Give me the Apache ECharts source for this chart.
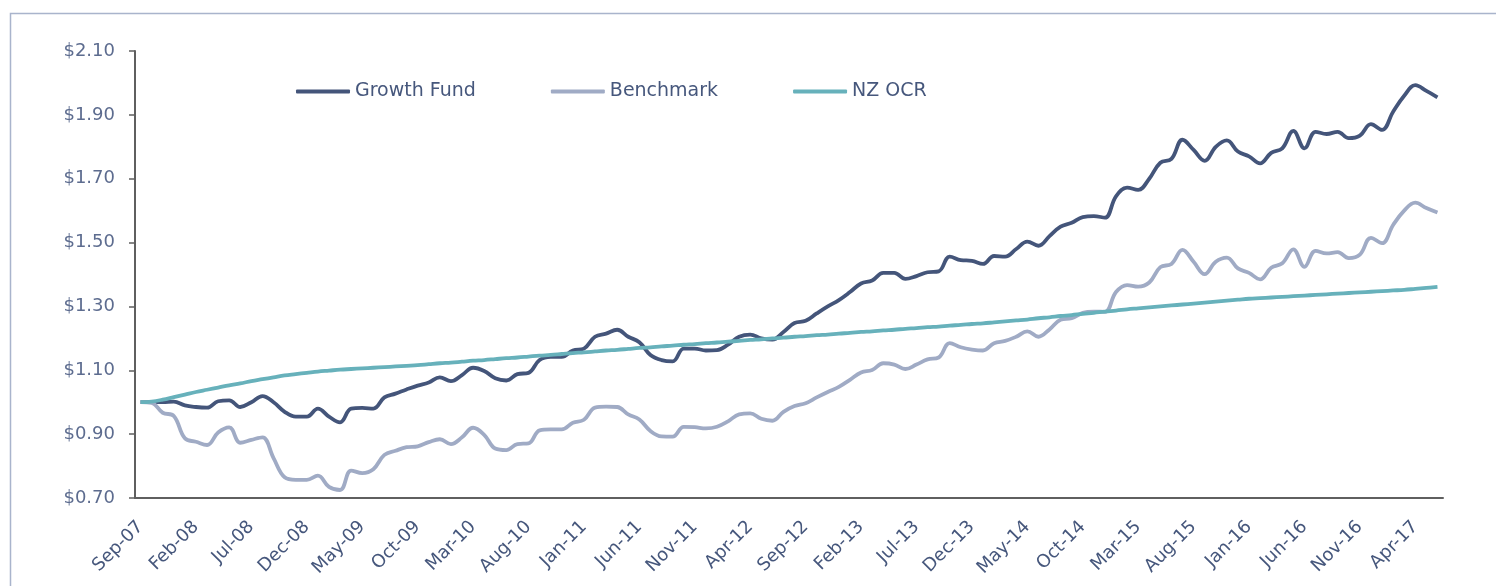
<!DOCTYPE html>
<html>
<head>
<meta charset="utf-8">
<script src="https://cdn.jsdelivr.net/npm/echarts@6/dist/echarts.min.js"></script>
<style>
    html, body { margin: 0; padding: 0; background: #fff; }
    #chart { width: 1496px; height: 586px; }
</style>
</head>
<body>
<div id="chart"></div>
<script>

    const months = [
        'Sep-07', 'Oct-07', 'Nov-07', 'Dec-07',
        'Jan-08', 'Feb-08', 'Mar-08', 'Apr-08', 'May-08', 'Jun-08', 'Jul-08', 'Aug-08', 'Sep-08', 'Oct-08', 'Nov-08', 'Dec-08',
        'Jan-09', 'Feb-09', 'Mar-09', 'Apr-09', 'May-09', 'Jun-09', 'Jul-09', 'Aug-09', 'Sep-09', 'Oct-09', 'Nov-09', 'Dec-09',
        'Jan-10', 'Feb-10', 'Mar-10', 'Apr-10', 'May-10', 'Jun-10', 'Jul-10', 'Aug-10', 'Sep-10', 'Oct-10', 'Nov-10', 'Dec-10',
        'Jan-11', 'Feb-11', 'Mar-11', 'Apr-11', 'May-11', 'Jun-11', 'Jul-11', 'Aug-11', 'Sep-11', 'Oct-11', 'Nov-11', 'Dec-11',
        'Jan-12', 'Feb-12', 'Mar-12', 'Apr-12', 'May-12', 'Jun-12', 'Jul-12', 'Aug-12', 'Sep-12', 'Oct-12', 'Nov-12', 'Dec-12',
        'Jan-13', 'Feb-13', 'Mar-13', 'Apr-13', 'May-13', 'Jun-13', 'Jul-13', 'Aug-13', 'Sep-13', 'Oct-13', 'Nov-13', 'Dec-13',
        'Jan-14', 'Feb-14', 'Mar-14', 'Apr-14', 'May-14', 'Jun-14', 'Jul-14', 'Aug-14', 'Sep-14', 'Oct-14', 'Nov-14', 'Dec-14',
        'Jan-15', 'Feb-15', 'Mar-15', 'Apr-15', 'May-15', 'Jun-15', 'Jul-15', 'Aug-15', 'Sep-15', 'Oct-15', 'Nov-15', 'Dec-15',
        'Jan-16', 'Feb-16', 'Mar-16', 'Apr-16', 'May-16', 'Jun-16', 'Jul-16', 'Aug-16', 'Sep-16', 'Oct-16', 'Nov-16', 'Dec-16',
        'Jan-17', 'Feb-17', 'Mar-17', 'Apr-17', 'May-17', 'Jun-17'
    ];

    // growth of $1 invested
    const growthFund = [
        1.000, 1.000, 1.000, 1.002, 0.990, 0.985, 0.983, 1.003, 1.006, 0.985,
        1.000, 1.019, 1.000, 0.970, 0.955, 0.955, 0.980, 0.955, 0.937, 0.980,
        0.982, 0.980, 1.015, 1.027, 1.040, 1.052, 1.062, 1.078, 1.066, 1.085,
        1.108, 1.098, 1.075, 1.068, 1.088, 1.092, 1.132, 1.142, 1.142, 1.162,
        1.168, 1.205, 1.215, 1.227, 1.205, 1.188, 1.148, 1.132, 1.128, 1.168,
        1.168, 1.162, 1.163, 1.180, 1.205, 1.212, 1.200, 1.196, 1.220, 1.248,
        1.255, 1.278, 1.300, 1.320, 1.345, 1.372, 1.381, 1.405, 1.405, 1.386,
        1.395, 1.407, 1.410, 1.456, 1.445, 1.443, 1.433, 1.458, 1.456, 1.480,
        1.503, 1.490, 1.520, 1.550, 1.562, 1.580, 1.583, 1.578, 1.645, 1.672,
        1.665, 1.700, 1.750, 1.762, 1.822, 1.790, 1.756, 1.800, 1.820, 1.785,
        1.770, 1.748, 1.781, 1.795, 1.850, 1.795, 1.847, 1.840, 1.847, 1.827,
        1.835, 1.871, 1.853, 1.910, 1.960, 1.993, 1.975, 1.955
    ];

    const benchmark = [
        1.000, 0.998, 0.967, 0.957, 0.887, 0.876, 0.866, 0.905, 0.921, 0.873,
        0.882, 0.890, 0.825, 0.765, 0.757, 0.757, 0.770, 0.735, 0.725, 0.786,
        0.778, 0.790, 0.835, 0.848, 0.859, 0.862, 0.875, 0.884, 0.869, 0.890,
        0.920, 0.898, 0.855, 0.850, 0.869, 0.871, 0.912, 0.915, 0.915, 0.936,
        0.945, 0.983, 0.986, 0.985, 0.962, 0.946, 0.910, 0.893, 0.892, 0.923,
        0.922, 0.918, 0.923, 0.940, 0.962, 0.965, 0.948, 0.942, 0.970, 0.988,
        0.997, 1.015, 1.032, 1.048, 1.070, 1.093, 1.101, 1.122, 1.118, 1.104,
        1.118, 1.134, 1.140, 1.185, 1.172, 1.165, 1.162, 1.185, 1.192, 1.205,
        1.222, 1.205, 1.228, 1.258, 1.263, 1.280, 1.284, 1.283, 1.345, 1.367,
        1.362, 1.375, 1.423, 1.433, 1.477, 1.440, 1.401, 1.440, 1.453, 1.419,
        1.405, 1.385, 1.421, 1.435, 1.479, 1.424, 1.474, 1.466, 1.470, 1.451,
        1.462, 1.515, 1.498, 1.555, 1.600, 1.625, 1.608, 1.594
    ];

    const nzOcr = [
        1.000, 1.002, 1.008, 1.016, 1.024, 1.032, 1.039, 1.046, 1.053, 1.059,
        1.066, 1.072, 1.078, 1.084, 1.088, 1.092, 1.096, 1.099, 1.102, 1.104,
        1.106, 1.108, 1.110, 1.112, 1.114, 1.116, 1.119, 1.122, 1.124, 1.127,
        1.130, 1.132, 1.135, 1.138, 1.140, 1.143, 1.146, 1.148, 1.151, 1.154,
        1.156, 1.159, 1.162, 1.164, 1.167, 1.170, 1.172, 1.175, 1.177, 1.180,
        1.182, 1.185, 1.187, 1.190, 1.192, 1.195, 1.197, 1.200, 1.202, 1.205,
        1.207, 1.210, 1.212, 1.215, 1.217, 1.220, 1.222, 1.225, 1.227, 1.230,
        1.232, 1.235, 1.237, 1.240, 1.242, 1.245, 1.247, 1.250, 1.253, 1.256,
        1.259, 1.263, 1.266, 1.270, 1.273, 1.277, 1.280, 1.284, 1.287, 1.291,
        1.294, 1.297, 1.300, 1.303, 1.306, 1.309, 1.312, 1.315, 1.318, 1.321,
        1.324, 1.326, 1.328, 1.330, 1.332, 1.334, 1.336, 1.338, 1.340, 1.342,
        1.344, 1.346, 1.348, 1.350, 1.352, 1.355, 1.358, 1.361
    ];

    const X_TEXT_COLOR = '#46577c';
    const Y_TEXT_COLOR = '#5d6c8f';
    const AXIS_COLOR = '#5f5f5f';
    const FONT = '"DejaVu Sans", sans-serif';

    const lineSeries = (name, data, color) => ({
        name: name,
        type: 'line',
        data: data,
        smooth: 0.4,
        symbol: 'none',
        animation: false,
        lineStyle: { color: color, width: 3.8 },
        itemStyle: { color: color }
    });

    echarts.init(document.getElementById('chart')).setOption({
        animation: false,
        graphic: [{
            type: 'rect',
            silent: true,
            shape: { x: 10.5, y: 13.5, width: 1500, height: 600 },
            style: { fill: 'none', stroke: '#a9b4cc', lineWidth: 1.5 }
        }],
        legend: {
            left: 296,
            top: 82,
            padding: 0,
            icon: 'roundRect',
            itemWidth: 54,
            itemHeight: 4,
            itemGap: 75,
            textStyle: { color: X_TEXT_COLOR, fontSize: 19, fontFamily: FONT },
            data: ['Growth Fund', 'Benchmark', 'NZ OCR']
        },
        grid: {
            left: 135,
            right: 53,
            top: 51,
            bottom: 88
        },
        xAxis: [{
            type: 'category',
            boundaryGap: true,
            data: months,
            axisLine: { lineStyle: { color: AXIS_COLOR, width: 2 } },
            axisTick: { interval: 4, length: 6, lineStyle: { color: AXIS_COLOR, width: 1.5 } },
            axisLabel: {
                interval: 4,
                rotate: 45,
                margin: 26,
                color: X_TEXT_COLOR,
                fontSize: 18,
                fontFamily: FONT
            },
            splitLine: { show: false }
        }],
        yAxis: [{
            type: 'value',
            min: 0.7,
            max: 2.1,
            interval: 0.2,
            axisLine: { show: true, lineStyle: { color: AXIS_COLOR, width: 2 } },
            axisTick: { show: true, length: 6, lineStyle: { color: AXIS_COLOR, width: 1.5 } },
            axisLabel: {
                margin: 20,
                color: Y_TEXT_COLOR,
                fontSize: 18,
                fontFamily: FONT,
                formatter: v => '$' + v.toFixed(2)
            },
            splitLine: { show: false }
        }],
        series: [
            lineSeries('Growth Fund', growthFund, '#44557a'),
            lineSeries('Benchmark', benchmark, '#a0abc5'),
            lineSeries('NZ OCR', nzOcr, '#67b1bb')
        ]
    });

</script>
</body>
</html>
